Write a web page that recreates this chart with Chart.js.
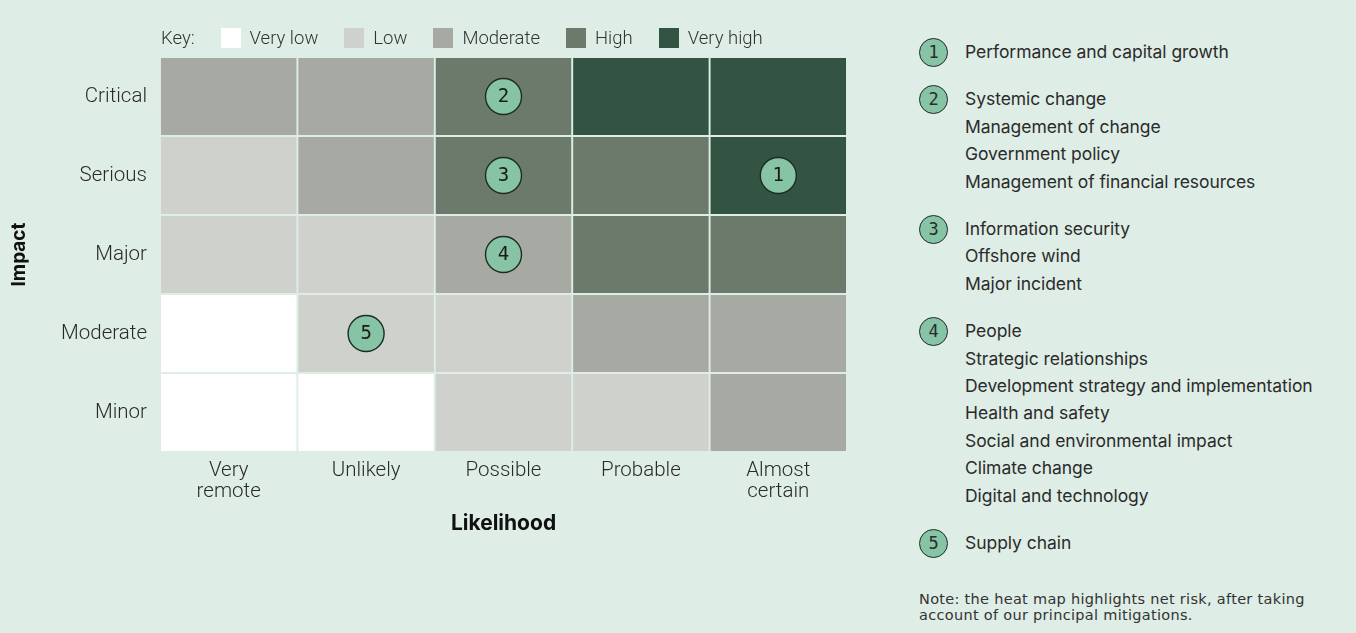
<!DOCTYPE html>
<html>
<head>
<meta charset="utf-8">
<script src="https://cdn.jsdelivr.net/npm/chart.js@4.4.1/dist/chart.umd.min.js"></script>
<style>
    body { margin: 0; background: #deede6; width: 1356px; height: 633px; overflow: hidden; position: relative; font-family: Inter, 'Noto Sans', sans-serif; color: #222; }
    #wrap { position: absolute; left: 0; top: 0; width: 880px; height: 633px; }
    #key { position: absolute; left: 161px; top: 27px; display: flex; align-items: center; font-family: Roboto, sans-serif; font-weight: 300; font-size: 18.5px; color: #333; }
    #key .sw { width: 20px; height: 20px; margin: 0 9px 0 26px; }
    #risks { position: absolute; left: 919px; top: 38px; font-size: 17.5px; letter-spacing: -0.05px; color: #2b2b2b; }
    .grp { position: relative; padding-left: 46px; margin-bottom: 20px; }
    .grp div { line-height: 27.4px; }
    .badge { position: absolute; left: 0; top: 0; width: 27px; height: 27px; border: 1.4px solid #1f2c25; border-radius: 50%; background: #86c4a5; text-align: center; line-height: 27px; font-family: 'DejaVu Sans Mono', monospace; font-size: 17px; letter-spacing: 0; }
    #note { position: absolute; left: 919px; top: 591px; font-family: 'DejaVu Sans', sans-serif; font-size: 14.5px; letter-spacing: 0.3px; line-height: 16px; color: #333; }
</style>
</head>
<body>
<div id="wrap"><canvas id="chartHeat"></canvas></div>
<div id="key"></div>
<div id="risks"></div>
<div id="note">Note: the heat map highlights net risk, after taking<br>account of our principal mitigations.</div>
<script>
// axes
const likelihood = ['Very remote', 'Unlikely', 'Possible', 'Probable', 'Almost certain']
const impact = ['Minor', 'Moderate', 'Major', 'Serious', 'Critical']

// risk level of each cell, one row per impact (Minor first), one value per likelihood
const levelMinor = [0, 0, 1, 1, 2]
const levelModerate = [0, 1, 1, 2, 2]
const levelMajor = [1, 1, 2, 3, 3]
const levelSerious = [1, 2, 3, 3, 4]
const levelCritical = [2, 2, 3, 4, 4]
const levelRows = [levelMinor, levelModerate, levelMajor, levelSerious, levelCritical]

const levelNames = ['Very low', 'Low', 'Moderate', 'High', 'Very high']
const levelColors = ['#ffffff', '#cfd1cc', '#a6aaa2', '#6c7a6b', '#345443']

// principal risks: number, likelihood, impact
const riskIds = [1, 2, 3, 4, 5]
const riskLikelihood = ['Almost certain', 'Possible', 'Possible', 'Possible', 'Unlikely']
const riskImpact = ['Serious', 'Critical', 'Serious', 'Major', 'Moderate']
const riskNames = [
    ['Performance and capital growth'],
    ['Systemic change', 'Management of change', 'Government policy', 'Management of financial resources'],
    ['Information security', 'Offshore wind', 'Major incident'],
    ['People', 'Strategic relationships', 'Development strategy and implementation', 'Health and safety', 'Social and environmental impact', 'Climate change', 'Digital and technology'],
    ['Supply chain']
]

const bg = '#deede6'

function $each(arr, fn) { arr.forEach(function (v, i) { fn(i, v) }) }

// key above the grid
let key = '<span>Key:</span>'
$each(levelNames, function (i, name) {
    key += `<span class="sw" style="background:${levelColors[i]}"></span><span>${name}</span>`
})
document.getElementById('key').innerHTML = key

// numbered list on the right
let list = ''
$each(riskNames, function (i, names) {
    list += `<div class="grp"><span class="badge">${riskIds[i]}</span>`
    $each(names, function (j, n) { list += `<div>${n}</div>` })
    list += '</div>'
})
document.getElementById('risks').innerHTML = list

// one floating bar per cell, each row spans [r, r + 1] on the impact axis
let cellSets = levelRows.map(function (row, r) {
    return {
        label: impact[r],
        data: row.map(function () { return [r, r + 1] }),
        backgroundColor: row.map(function (lv) { return levelColors[lv] }),
        borderColor: bg,
        borderWidth: 1.3,
        borderSkipped: false,
        barPercentage: 1,
        categoryPercentage: 1,
        grouped: false,
        order: 2
    }
})

let markerSet = {
    type: 'scatter',
    label: 'Risks',
    data: riskIds.map(function (id, i) { return { x: riskLikelihood[i], y: impact.indexOf(riskImpact[i]) + 0.5 } }),
    backgroundColor: '#86c4a5',
    borderColor: '#1f2c25',
    borderWidth: 1.4,
    pointRadius: 18,
    order: 1
}

// numbers inside the markers
const markerText = {
    id: 'markerText',
    afterDatasetsDraw(chart) {
        let meta = chart.getDatasetMeta(chart.data.datasets.length - 1)
        let ctx = chart.ctx
        ctx.save()
        ctx.font = '19px "DejaVu Sans Mono", monospace'
        ctx.fillStyle = '#1a1a1a'
        ctx.textAlign = 'center'
        ctx.textBaseline = 'middle'
        meta.data.forEach(function (pt, i) {
            ctx.fillText(String(riskIds[i]), pt.x, pt.y + 1)
        })
        ctx.restore()
    }
}

new Chart(document.getElementById('chartHeat'), {
    type: 'bar',
    data: {
        labels: likelihood,
        datasets: cellSets.concat([markerSet])
    },
    plugins: [markerText],
    options: {
        responsive: true,
        maintainAspectRatio: false,
        animation: false,
        events: [],
        layout: { padding: { top: 57, right: 33, bottom: 81, left: 0 } },
        plugins: {
            legend: { display: false },
            tooltip: { enabled: false }
        },
        scales: {
            x: {
                type: 'category',
                offset: true,
                grid: { display: false, drawTicks: false },
                border: { display: false },
                ticks: {
                    color: '#2a2a2a',
                    padding: 9,
                    font: { family: 'Roboto', size: 20.5, weight: 300, lineHeight: 1.0 },
                    callback: function (v, i) { return likelihood[i].split(' ') }
                },
                title: { display: true, text: 'Likelihood', color: '#111', padding: { top: 0, bottom: 16 }, font: { family: 'Inter', size: 21, weight: 700 } },
                afterFit: function (scale) { scale.height = 100 }
            },
            y: {
                type: 'linear',
                min: 0,
                max: 5,
                grid: { display: false, drawTicks: false },
                border: { display: false },
                afterBuildTicks: function (scale) {
                    scale.ticks = impact.map(function (n, i) { return { value: i + 0.5 } })
                },
                ticks: {
                    color: '#2a2a2a',
                    padding: 13,
                    font: { family: 'Roboto', size: 20.5, weight: 300 },
                    callback: function (v) { return impact[Math.floor(v)] }
                },
                title: { display: true, text: 'Impact', color: '#111', padding: { top: 8 }, font: { family: 'Inter', size: 19, weight: 700 } },
                afterFit: function (scale) { scale.width = 160 }
            }
        }
    }
})
</script>
</body>
</html>
